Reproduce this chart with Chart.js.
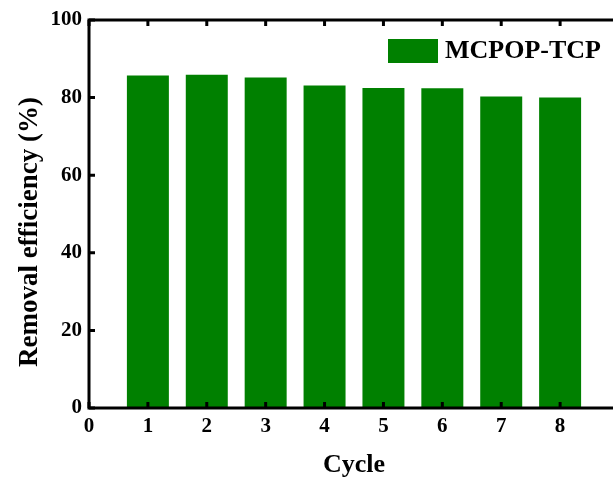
<!DOCTYPE html>
<html>
<head>
<meta charset="utf-8">
<title>Removal efficiency</title>
<script src="https://cdn.jsdelivr.net/npm/chart.js"></script>
<style>
  html, body { margin: 0; padding: 0; overflow: hidden; background: #fff; }
  canvas { display: block; }
</style>
</head>
<body>
<canvas id="chart" width="630" height="479"></canvas>
<script>
const cycles = [1, 2, 3, 4, 5, 6, 7, 8];
const efficiency = [85.7, 85.9, 85.2, 83.1, 82.5, 82.4, 80.3, 80.0];
const seriesLabel = "MCPOP-TCP";
const xTicks = [0, 1, 2, 3, 4, 5, 6, 7, 8];
const yTicks = [0, 20, 40, 60, 80, 100];

const serif = "'Liberation Serif', 'Times New Roman', serif";

// frame, inward ticks, legend and y title
const decor = {
  id: "decor",
  afterDraw(chart) {
    const { ctx, chartArea: a, scales } = chart;
    ctx.save();
    ctx.strokeStyle = "#000";
    ctx.lineWidth = 3;
    ctx.strokeRect(a.left, a.top, a.right - a.left, a.bottom - a.top);

    const tl = 6;
    ctx.beginPath();
    xTicks.forEach(v => {
      const x = scales.x.getPixelForValue(v);
      ctx.moveTo(x, a.bottom); ctx.lineTo(x, a.bottom - tl);
      ctx.moveTo(x, a.top); ctx.lineTo(x, a.top + tl);
    });
    yTicks.forEach(v => {
      const y = scales.y.getPixelForValue(v);
      ctx.moveTo(a.left, y); ctx.lineTo(a.left + tl, y);
      ctx.moveTo(a.right, y); ctx.lineTo(a.right - tl + 1, y);
    });
    ctx.stroke();

    // legend
    const ds = chart.data.datasets[0];
    ctx.fillStyle = ds.backgroundColor;
    ctx.fillRect(388, 39, 50, 24);
    ctx.fillStyle = "#000";
    ctx.font = "bold 26px " + serif;
    ctx.textAlign = "left";
    ctx.textBaseline = "middle";
    ctx.fillText(ds.label, 445, 51);

    // y axis title
    ctx.font = "bold 27px " + serif;
    ctx.translate(30, 232);
    ctx.rotate(-Math.PI / 2);
    ctx.textAlign = "center";
    ctx.fillText("Removal efficiency (%)", 0, 0);
    ctx.restore();
  }
};

new Chart(document.getElementById("chart"), {
  type: "bar",
  data: {
    labels: cycles,
    datasets: [{
      label: seriesLabel,
      data: cycles.map((c, i) => ({ x: c, y: efficiency[i] })),
      backgroundColor: "#008000",
      borderWidth: 0,
      barPercentage: 0.713,
      categoryPercentage: 1
    }]
  },
  options: {
    responsive: false,
    animation: false,
    layout: { padding: { top: 20, right: 11, left: 0, bottom: 0 } },
    plugins: { legend: { display: false }, tooltip: { enabled: false } },
    scales: {
      x: {
        type: "linear",
        offset: false,
        min: 0,
        max: 9,
        afterBuildTicks(scale) { scale.ticks = xTicks.map(v => ({ value: v })); },
        afterFit(scale) { scale.height = 71; },
        grid: { display: false, drawTicks: false, tickLength: 0 },
        border: { display: false },
        ticks: {
          padding: 6,
          color: "#000",
          font: { family: serif, size: 21, weight: "bold" }
        },
        title: {
          display: true,
          text: "Cycle",
          color: "#000",
          padding: { top: 4, bottom: -2 },
          font: { family: serif, size: 26, weight: "bold" }
        }
      },
      y: {
        min: 0,
        max: 100,
        afterBuildTicks(scale) { scale.ticks = yTicks.map(v => ({ value: v })); },
        afterFit(scale) { scale.width = 89; },
        grid: { display: false, drawTicks: false, tickLength: 0 },
        border: { display: false },
        ticks: {
          padding: 7,
          color: "#000",
          font: { family: serif, size: 21, weight: "bold" }
        }
      }
    }
  },
  plugins: [decor]
});
</script>
</body>
</html>
